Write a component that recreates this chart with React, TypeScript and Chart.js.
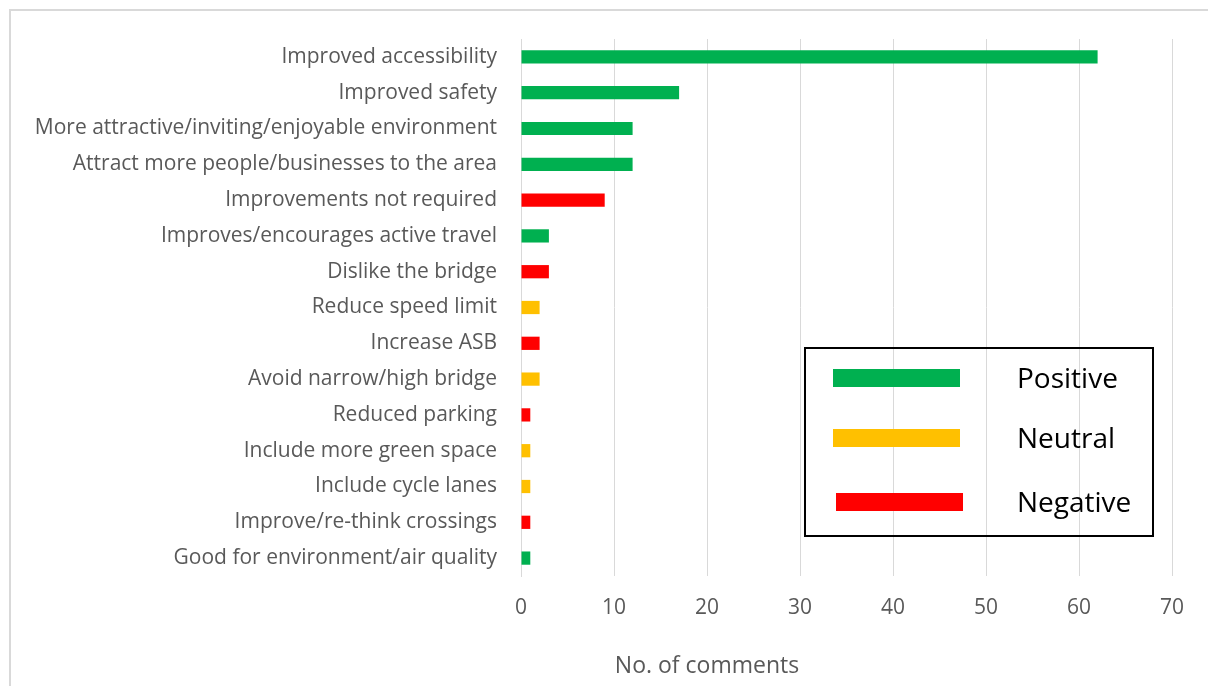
import React, { useEffect, useRef } from "react";
import { Chart, registerables } from "chart.js";

Chart.register(...registerables);

const categories = [
  "Improved accessibility",
  "Improved safety",
  "More attractive/inviting/enjoyable environment",
  "Attract more people/businesses to the area",
  "Improvements not required",
  "Improves/encourages active travel",
  "Dislike the bridge",
  "Reduce speed limit",
  "Increase ASB",
  "Avoid narrow/high bridge",
  "Reduced parking",
  "Include more green space",
  "Include cycle lanes",
  "Improve/re-think crossings",
  "Good for environment/air quality",
];

const positiveValues = [62, 17, 12, 12, null, 3, null, null, null, null, null, null, null, null, 1];
const neutralValues = [null, null, null, null, null, null, null, 2, null, 2, null, 1, 1, null, null];
const negativeValues = [null, null, null, null, 9, null, 3, null, 2, null, 1, null, null, 1, null];

const xTicks = [0, 10, 20, 30, 40, 50, 60, 70];
const xTitle = "No. of comments";

const seriesNames = ["Positive", "Neutral", "Negative"];
const seriesColors = ["#00B050", "#FFC000", "#FF0000"];

const FONT = "'Open Sans', 'Noto Sans', sans-serif";

const legendBoxPlugin = {
  id: "legendBox",
  afterDraw(chart: any) {
    const ctx = chart.ctx;
    const area = chart.chartArea;
    ctx.save();
    // legend box
    const bx = 805, by = 348, bw = 348, bh = 188;
    ctx.strokeStyle = "#000000";
    ctx.lineWidth = 2;
    ctx.strokeRect(bx, by, bw, bh);
    const rows = [378, 438, 502];
    const swX = [833, 833, 836];
    seriesNames.forEach((name, i) => {
      ctx.fillStyle = seriesColors[i];
      ctx.fillRect(swX[i], rows[i] - 9, 127, 18);
      ctx.fillStyle = "#000000";
      ctx.font = `28px ${FONT}`;
      ctx.textBaseline = "middle";
      ctx.textAlign = "left";
      ctx.fillText(name, 1017, rows[i] + 2);
    });
    // axis title
    ctx.fillStyle = "#595959";
    ctx.font = `23px ${FONT}`;
    ctx.textAlign = "center";
    ctx.textBaseline = "middle";
    ctx.fillText(xTitle, area.left + 186, 666);
    ctx.restore();
  },
};

export default function App() {
  const canvasRef = useRef<HTMLCanvasElement | null>(null);

  useEffect(() => {
    if (!canvasRef.current) return;
    const mk = (i: number, data: (number | null)[]) => ({
      label: seriesNames[i],
      data,
      backgroundColor: seriesColors[i],
      borderWidth: 0,
      barPercentage: 0.37,
      categoryPercentage: 1,
      grouped: false,
    });
    const chart = new Chart(canvasRef.current, {
      type: "bar",
      data: {
        labels: categories,
        datasets: [mk(0, positiveValues), mk(1, neutralValues), mk(2, negativeValues)],
      },
      options: {
        indexAxis: "y",
        animation: false,
        responsive: false,
        maintainAspectRatio: false,
        layout: { padding: { left: 12, right: 36, top: 39, bottom: 0 } },
        plugins: {
          legend: { display: false },
          tooltip: { enabled: false },
        },
        scales: {
          x: {
            min: 0,
            max: 70,
            afterBuildTicks: (scale: any) => {
              scale.ticks = xTicks.map((v) => ({ value: v }));
            },
            afterFit: (scale: any) => {
              scale.height = 110;
            },
            grid: { color: "#d9d9d9", lineWidth: 1, drawTicks: false },
            border: { display: false },
            ticks: {
              padding: 19,
              color: "#595959",
              font: { family: FONT, size: 21 },
            },
          },
          y: {
            afterFit: (scale: any) => {
              scale.width = 521 - 12;
            },
            grid: { display: false, drawTicks: false },
            border: { display: true, color: "#d9d9d9", width: 1 },
            ticks: {
              padding: 24,
              color: "#595959",
              font: { family: FONT, size: 21 },
              autoSkip: false,
            },
          },
        },
      },
      plugins: [legendBoxPlugin],
    } as any);
    return () => chart.destroy();
  }, []);

  return (
    <div
      style={{
        position: "absolute",
        left: 0,
        top: 0,
        width: 1208,
        height: 686,
        overflow: "hidden",
        background: "#ffffff",
      }}
    >
      <div
        style={{
          position: "absolute",
          left: 9,
          top: 9,
          width: 1400,
          height: 900,
          border: "2px solid #d9d9d9",
        }}
      />
      <canvas
        ref={canvasRef}
        width={1208}
        height={686}
        style={{ position: "absolute", left: 0, top: 0, width: 1208, height: 686 }}
      />
    </div>
  );
}
